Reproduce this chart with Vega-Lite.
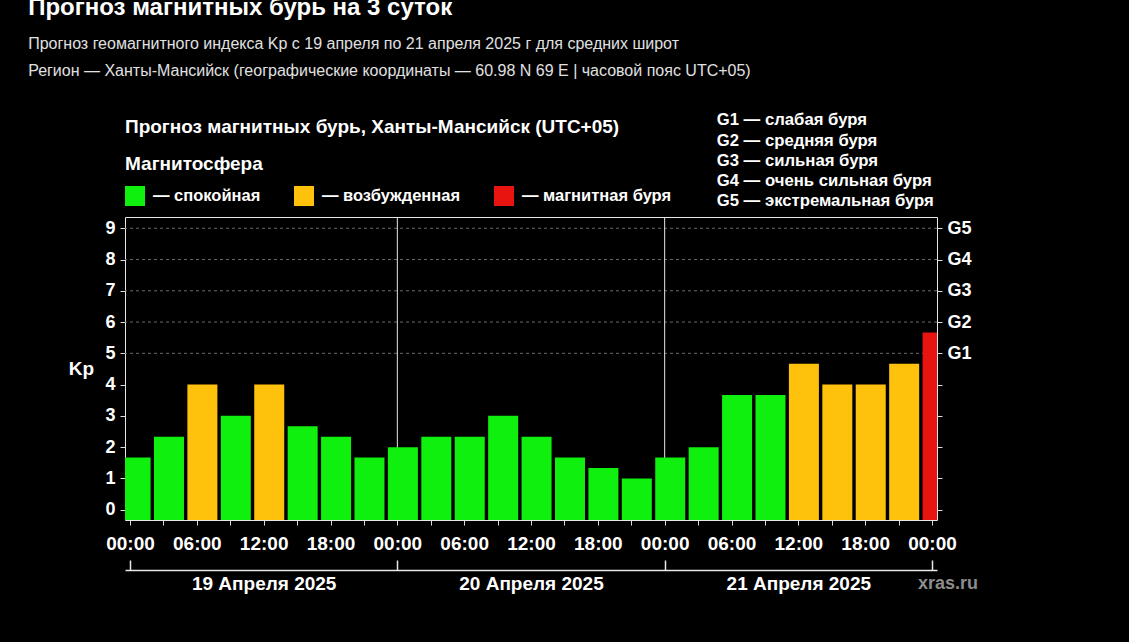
{
  "$schema": "https://vega.github.io/schema/vega-lite/v6.json",
  "background": "#000000",
  "padding": {"left": 28, "top": -5, "right": 150, "bottom": 60},
  "width": 812,
  "height": 303,
  "title": {
    "text": "Прогноз магнитных бурь на 3 суток",
    "subtitle": ["Прогноз геомагнитного индекса Kp с 19 апреля по 21 апреля 2025 г для средних широт", "Регион — Ханты-Мансийск (географические координаты — 60.98 N 69 E | часовой пояс UTC+05)"],
    "anchor": "start",
    "frame": "bounds",
    "dx": -40,
    "font": "Liberation Sans",
    "fontSize": 24,
    "fontWeight": "bold",
    "color": "#ffffff",
    "subtitleFont": "Liberation Sans",
    "subtitleFontSize": 16,
    "subtitleColor": "#e0e0e0",
    "subtitlePadding": 16.5,
    "subtitleLineHeight": 27,
    "offset": 33
  },
  "resolve": {
    "scale": {"color": "independent"},
    "axis": {"x": "independent", "y": "independent"}
  },
  "layer": [
    {
      "data": {"values": [
        {"kp": 5, "storm": "G1 — слабая буря"},
        {"kp": 6, "storm": "G2 — средняя буря"},
        {"kp": 7, "storm": "G3 — сильная буря"},
        {"kp": 8, "storm": "G4 — очень сильная буря"},
        {"kp": 9, "storm": "G5 — экстремальная буря"}
      ]},
      "mark": {"type": "rule", "strokeDash": [3, 3], "strokeWidth": 1},
      "encoding": {
        "y": {
          "field": "kp", "type": "quantitative",
          "scale": {"domain": [-0.33, 9.36], "nice": false, "zero": false},
          "axis": {
            "orient": "right", "values": [0, 1, 2, 3, 4, 5, 6, 7, 8, 9],
            "labelExpr": "datum.value >= 5 ? 'G' + (datum.value - 4) : ''",
            "title": null, "domain": false, "grid": false,
            "tickSize": 5, "labelPadding": 5, "labelFontSize": 18
          }
        },
        "color": {
          "field": "storm", "type": "nominal",
          "scale": {
            "domain": ["G1 — слабая буря", "G2 — средняя буря", "G3 — сильная буря", "G4 — очень сильная буря", "G5 — экстремальная буря"],
            "range": ["#6a6a6a", "#6a6a6a", "#6a6a6a", "#6a6a6a", "#6a6a6a"]
          },
          "legend": {
            "orient": "none", "legendX": 575, "legendY": -105,
            "title": null, "direction": "vertical",
            "symbolSize": 1, "symbolStrokeWidth": 0, "symbolOpacity": 0,
            "labelOffset": 0, "labelFontSize": 16.7, "labelFontWeight": "bold",
            "labelColor": "#ffffff", "rowPadding": 2.2, "labelLimit": 400
          }
        }
      }
    },
    {
      "data": {"values": [
        {"t": "2025-04-20T00:00:00", "site": "xras.ru"},
        {"t": "2025-04-21T00:00:00", "site": "xras.ru"}
      ]},
      "mark": {"type": "rule", "strokeWidth": 1},
      "encoding": {
        "x": {
          "field": "t", "type": "temporal",
          "scale": {"domain": [{"year": 2025, "month": 4, "date": 19, "hours": 0}, {"year": 2025, "month": 4, "date": 22, "hours": 0}]},
          "axis": {
            "orient": "top", "offset": -353, "title": null, "grid": false, "labels": false,
            "values": [
              {"year": 2025, "month": 4, "date": 19, "hours": 0},
              {"year": 2025, "month": 4, "date": 20, "hours": 0},
              {"year": 2025, "month": 4, "date": 21, "hours": 0},
              {"year": 2025, "month": 4, "date": 22, "hours": 0}
            ],
            "tickSize": 10, "tickColor": "#e8e8e8", "tickWidth": 1.5,
            "domainColor": "#e8e8e8", "domainWidth": 1.5
          }
        },
        "color": {
          "field": "site", "type": "nominal",
          "scale": {"domain": ["xras.ru"], "range": ["#e8e8e8"]},
          "legend": {
            "orient": "none", "legendX": 775, "legendY": 358,
            "title": null, "symbolSize": 1, "symbolOpacity": 0, "symbolStrokeWidth": 0,
            "labelOffset": 0, "labelFontSize": 18, "labelFontWeight": "bold", "labelColor": "#8c8c8c"
          }
        }
      }
    },
    {
      "data": {"values": [
        {"t": "2025-04-19T00:30:00", "kp": 1.67, "state": "спокойная"},
        {"t": "2025-04-19T03:30:00", "kp": 2.33, "state": "спокойная"},
        {"t": "2025-04-19T06:30:00", "kp": 4.0, "state": "возбужденная"},
        {"t": "2025-04-19T09:30:00", "kp": 3.0, "state": "спокойная"},
        {"t": "2025-04-19T12:30:00", "kp": 4.0, "state": "возбужденная"},
        {"t": "2025-04-19T15:30:00", "kp": 2.67, "state": "спокойная"},
        {"t": "2025-04-19T18:30:00", "kp": 2.33, "state": "спокойная"},
        {"t": "2025-04-19T21:30:00", "kp": 1.67, "state": "спокойная"},
        {"t": "2025-04-20T00:30:00", "kp": 2.0, "state": "спокойная"},
        {"t": "2025-04-20T03:30:00", "kp": 2.33, "state": "спокойная"},
        {"t": "2025-04-20T06:30:00", "kp": 2.33, "state": "спокойная"},
        {"t": "2025-04-20T09:30:00", "kp": 3.0, "state": "спокойная"},
        {"t": "2025-04-20T12:30:00", "kp": 2.33, "state": "спокойная"},
        {"t": "2025-04-20T15:30:00", "kp": 1.67, "state": "спокойная"},
        {"t": "2025-04-20T18:30:00", "kp": 1.33, "state": "спокойная"},
        {"t": "2025-04-20T21:30:00", "kp": 1.0, "state": "спокойная"},
        {"t": "2025-04-21T00:30:00", "kp": 1.67, "state": "спокойная"},
        {"t": "2025-04-21T03:30:00", "kp": 2.0, "state": "спокойная"},
        {"t": "2025-04-21T06:30:00", "kp": 3.67, "state": "спокойная"},
        {"t": "2025-04-21T09:30:00", "kp": 3.67, "state": "спокойная"},
        {"t": "2025-04-21T12:30:00", "kp": 4.67, "state": "возбужденная"},
        {"t": "2025-04-21T15:30:00", "kp": 4.0, "state": "возбужденная"},
        {"t": "2025-04-21T18:30:00", "kp": 4.0, "state": "возбужденная"},
        {"t": "2025-04-21T21:30:00", "kp": 4.67, "state": "возбужденная"},
        {"t": "2025-04-22T00:30:00", "kp": 5.67, "state": "магнитная буря"}
      ]},
      "mark": {"type": "bar", "size": 30, "clip": true},
      "encoding": {
        "x": {
          "field": "t", "type": "temporal",
          "scale": {"domain": [{"year": 2025, "month": 4, "date": 19, "hours": 0}, {"year": 2025, "month": 4, "date": 22, "hours": 0}]},
          "axis": {
            "orient": "bottom", "title": null, "grid": false,
            "values": [
              {"year": 2025, "month": 4, "date": 19, "hours": 0},
              {"year": 2025, "month": 4, "date": 19, "hours": 3},
              {"year": 2025, "month": 4, "date": 19, "hours": 6},
              {"year": 2025, "month": 4, "date": 19, "hours": 9},
              {"year": 2025, "month": 4, "date": 19, "hours": 12},
              {"year": 2025, "month": 4, "date": 19, "hours": 15},
              {"year": 2025, "month": 4, "date": 19, "hours": 18},
              {"year": 2025, "month": 4, "date": 19, "hours": 21},
              {"year": 2025, "month": 4, "date": 20, "hours": 0},
              {"year": 2025, "month": 4, "date": 20, "hours": 3},
              {"year": 2025, "month": 4, "date": 20, "hours": 6},
              {"year": 2025, "month": 4, "date": 20, "hours": 9},
              {"year": 2025, "month": 4, "date": 20, "hours": 12},
              {"year": 2025, "month": 4, "date": 20, "hours": 15},
              {"year": 2025, "month": 4, "date": 20, "hours": 18},
              {"year": 2025, "month": 4, "date": 20, "hours": 21},
              {"year": 2025, "month": 4, "date": 21, "hours": 0},
              {"year": 2025, "month": 4, "date": 21, "hours": 3},
              {"year": 2025, "month": 4, "date": 21, "hours": 6},
              {"year": 2025, "month": 4, "date": 21, "hours": 9},
              {"year": 2025, "month": 4, "date": 21, "hours": 12},
              {"year": 2025, "month": 4, "date": 21, "hours": 15},
              {"year": 2025, "month": 4, "date": 21, "hours": 18},
              {"year": 2025, "month": 4, "date": 21, "hours": 21},
              {"year": 2025, "month": 4, "date": 22, "hours": 0}
            ],
            "labelExpr": "hours(datum.value) == 12 ? [timeFormat(datum.value, '%H:%M'), timeFormat(datum.value, '%d Апреля %Y')] : (hours(datum.value) % 6 == 0 ? timeFormat(datum.value, '%H:%M') : '')",
            "labelLineHeight": 40,
            "tickSize": 5, "tickColor": "#dddddd", "domain": false,
            "labelPadding": 9, "labelFontSize": 19, "labelFlush": false, "labelOverlap": false
          }
        },
        "y": {
          "field": "kp", "type": "quantitative",
          "scale": {"domain": [-0.33, 9.36], "nice": false, "zero": false},
          "axis": {
            "orient": "left", "values": [0, 1, 2, 3, 4, 5, 6, 7, 8, 9],
            "title": "Kp", "titleAngle": 0, "titleAlign": "right", "titleBaseline": "middle",
            "titleFontSize": 19, "titleFontWeight": "bold", "titlePadding": 11.5,
            "domain": false, "grid": false, "tickSize": 5, "labelPadding": 5, "labelFontSize": 18
          }
        },
        "y2": {"datum": -0.33},
        "color": {
          "field": "state", "type": "nominal",
          "scale": {
            "domain": ["спокойная", "возбужденная", "магнитная буря"],
            "range": ["#0ff00e", "#ffc20c", "#e8140f"]
          },
          "legend": {
            "orient": "none", "legendX": 0, "legendY": -99,
            "title": ["Прогноз магнитных бурь, Ханты-Мансийск (UTC+05)", "Магнитосфера"],
            "direction": "horizontal",
            "titleFontSize": 19, "titleFontWeight": "bold", "titleColor": "#ffffff", "titlePadding": 12,
            "titleLineHeight": 37, "titleLimit": 700,
            "symbolType": "square", "symbolSize": 400, "symbolStrokeWidth": 0, "symbolOpacity": 1,
            "labelExpr": "'— ' + datum.label",
            "labelOffset": 8, "labelFontSize": 16.5, "labelFontWeight": "bold", "labelColor": "#ffffff",
            "columnPadding": 33, "labelLimit": 400
          }
        }
      }
    }
  ],
  "config": {
    "background": "#000000",
    "font": "Liberation Sans",
    "view": {"stroke": "#e8e8e8", "strokeWidth": 1},
    "axis": {
      "labelColor": "#ffffff", "labelFont": "Liberation Sans", "labelFontWeight": "bold",
      "titleColor": "#ffffff", "titleFont": "Liberation Sans", "tickColor": "#dddddd"
    },
    "legend": {"labelFont": "Liberation Sans", "titleFont": "Liberation Sans"}
  }
}
